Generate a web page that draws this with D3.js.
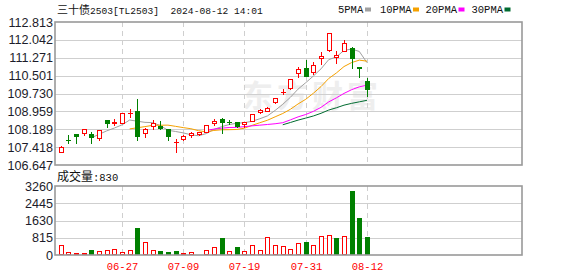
<!DOCTYPE html>
<html>
<head>
<meta charset="utf-8">
<script src="https://cdn.jsdelivr.net/npm/d3@7"></script>
<style>
  html, body { margin: 0; padding: 0; background: #fff; }
  svg { display: block; }
</style>
</head>
<body>
<svg id="chart" width="578" height="276"></svg>
<script>
// daily K-line data, 三十债2503
const dates = ['06-17','06-18','06-19','06-20','06-21','06-24','06-25','06-26','06-27','06-28',
  '07-01','07-02','07-03','07-04','07-05','07-08','07-09','07-10','07-11','07-12',
  '07-15','07-16','07-17','07-18','07-19','07-22','07-23','07-24','07-25','07-26',
  '07-29','07-30','07-31','08-01','08-02','08-05','08-06','08-07','08-08','08-09','08-12'];
const opens = [107.21, 107.73, 107.98, 108.01, 107.97, 107.82, 108.59, 108.45, 108.45, 108.88,
  108.98, 108.04, 108.33, 108.34, 108.19, 107.62, 107.77, 107.95, 107.97, 108.08,
  108.45, 108.63, 108.51, 108.49, 108.40, 108.56, 108.92, 108.98, 109.38, 109.80,
  109.95, 110.61, 110.84, 110.67, 111.27, 111.61, 111.30, 111.56, 111.71, 110.86, 110.27];
const highs = [107.47, 107.94, 107.98, 108.22, 108.06, 108.17, 108.60, 108.63, 108.91, 109.06,
  109.49, 108.26, 108.59, 108.54, 108.20, 107.77, 107.92, 108.06, 108.06, 108.38,
  108.62, 108.69, 108.59, 108.50, 108.50, 108.86, 109.06, 109.13, 109.53, 109.92,
  110.37, 110.89, 111.17, 111.08, 111.53, 112.34, 111.58, 112.04, 111.75, 110.86, 110.39];
const lows = [107.21, 107.61, 107.60, 107.94, 107.61, 107.73, 108.30, 108.39, 108.44, 108.70,
  107.73, 107.87, 108.20, 108.20, 107.73, 107.22, 107.73, 107.84, 107.96, 108.07,
  108.37, 108.01, 108.40, 108.27, 108.28, 108.55, 108.91, 108.97, 109.33, 109.70,
  109.94, 110.45, 110.49, 110.56, 111.00, 111.56, 111.05, 111.55, 110.82, 110.45, 109.62];
const closes = [107.42, 107.71, 107.90, 108.21, 107.87, 108.16, 108.45, 108.51, 108.90, 108.91,
  107.91, 108.20, 108.45, 108.26, 107.91, 107.64, 107.90, 108.04, 108.05, 108.37,
  108.54, 108.49, 108.50, 108.34, 108.49, 108.85, 109.02, 109.12, 109.52, 109.81,
  110.36, 110.79, 110.50, 110.96, 111.36, 112.33, 111.39, 111.90, 111.25, 110.84, 109.92];
const volumes = [455, 125, 80, 80, 235, 175, 235, 265, 140, 220,
  1270, 610, 235, 190, 140, 190, 95, 125, 45, 235,
  370, 805, 180, 385, 180, 465, 235, 840, 465, 415,
  270, 580, 611, 470, 893, 940, 800, 893, 3024, 1740, 830];

const priceTicks = [112.813, 112.042, 111.271, 110.501, 109.730, 108.959, 108.189, 107.418, 106.647];
const volumeTicks = [0, 815, 1630, 2445, 3260];
const dateTicks = ['06-27', '07-09', '07-19', '07-31', '08-12'];

const maPeriods = [5, 10, 20, 30];
const maColors = ['#a0a0a0', '#f5a100', '#ff00ff', '#006b30'];

const RED = '#ff0000';
const GREEN = '#008000';
const MONO = "'Liberation Mono', monospace";
const CJK = "'Noto Sans CJK SC', sans-serif";
const NUM = "'Liberation Sans', Arial, sans-serif";

const plotLeft = 55, plotRight = 522;
const priceTop = 22, priceBottom = 165;
const volTop = 186, volBottom = 255;

const svg = d3.select('#chart');

const x = d3.scaleLinear().domain([-0.75, 60.25]).range([plotLeft, plotRight]);
const y = d3.scaleLinear().domain([priceTicks[priceTicks.length - 1], priceTicks[0]]).range([priceBottom, priceTop]);
const yv = d3.scaleLinear().domain([0, volumeTicks[volumeTicks.length - 1]]).range([volBottom, volTop]);

const px = i => Math.round(x(i));

// title + legend
const title = svg.append('text').attr('x', 57).attr('y', 14).attr('fill', '#111');
title.append('tspan').attr('font-family', CJK).attr('font-size', 11).text('三十债');
title.append('tspan').attr('font-family', MONO).attr('font-size', 9.6).text('2503[TL2503]\u00a0 2024-08-12 14:01');

const legendX = [338, 380, 425.5, 471.5];
maPeriods.forEach((p, k) => {
  svg.append('text').attr('x', legendX[k]).attr('y', 13)
    .attr('font-family', MONO).attr('font-size', 10.5).attr('fill', '#111')
    .text(p + 'PMA');
  svg.append('rect').attr('x', legendX[k] + (p < 10 ? 27 : 33)).attr('y', 7.5)
    .attr('width', 6).attr('height', 4).attr('fill', maColors[k]);
});

// watermark
svg.append('text').attr('x', 242).attr('y', 107)
  .attr('font-family', CJK).attr('font-weight', 'bold').attr('font-size', 31)
  .attr('fill', '#eeeeee').attr('textLength', 136).text('东方财富');

// grid for both panels
const grid = svg.append('g').attr('shape-rendering', 'crispEdges');
priceTicks.slice(1, -1).forEach(t => {
  grid.append('line').attr('x1', plotLeft).attr('x2', plotRight)
    .attr('y1', Math.round(y(t)) + 0.5).attr('y2', Math.round(y(t)) + 0.5)
    .attr('stroke', '#cfcfcf');
});
volumeTicks.slice(1, -1).forEach(t => {
  grid.append('line').attr('x1', plotLeft).attr('x2', plotRight)
    .attr('y1', Math.round(yv(t)) + 0.5).attr('y2', Math.round(yv(t)) + 0.5)
    .attr('stroke', '#cfcfcf');
});
dateTicks.forEach(d => {
  const xi = px(dates.indexOf(d)) + 0.5;
  [[priceTop, priceBottom], [volTop, volBottom]].forEach(([a, b]) => {
    grid.append('line').attr('x1', xi).attr('x2', xi).attr('y1', a).attr('y2', b)
      .attr('stroke', '#cfcfcf').attr('stroke-dasharray', '5,4');
  });
});

// axis labels
priceTicks.forEach(t => {
  svg.append('text').attr('x', 53).attr('y', y(t)).attr('dy', '0.36em')
    .attr('text-anchor', 'end').attr('font-family', NUM).attr('font-size', 12.6)
    .attr('fill', '#1c1c2a').text(t.toFixed(3));
});
volumeTicks.forEach(t => {
  svg.append('text').attr('x', 53).attr('y', yv(t)).attr('dy', '0.36em')
    .attr('text-anchor', 'end').attr('font-family', NUM).attr('font-size', 12.6)
    .attr('fill', '#1c1c2a').text(t);
});
dateTicks.forEach(d => {
  svg.append('text').attr('x', px(dates.indexOf(d)) + 0.5).attr('y', 270)
    .attr('text-anchor', 'middle').attr('font-family', MONO).attr('font-size', 10.5)
    .attr('fill', RED).text(d);
});

const volTitle = svg.append('text').attr('x', 57).attr('y', 181).attr('fill', '#111');
volTitle.append('tspan').attr('font-family', CJK).attr('font-size', 12).text('成交量');
volTitle.append('tspan').attr('font-family', MONO).attr('font-size', 10.5).text(':' + volumes[volumes.length - 1]);

// moving averages of the close
maPeriods.forEach((p, k) => {
  const pts = [];
  closes.forEach((c, i) => {
    if (i >= p - 1) pts.push([i, d3.mean(closes.slice(i - p + 1, i + 1))]);
  });
  svg.append('path').datum(pts)
    .attr('d', d3.line().x(d => x(d[0])).y(d => y(d[1])))
    .attr('fill', 'none').attr('stroke', maColors[k]).attr('stroke-width', 1);
});

// candles
const candles = svg.append('g').attr('shape-rendering', 'crispEdges');
dates.forEach((d, i) => {
  const cx = px(i);
  const up = closes[i] >= opens[i];
  const col = up ? RED : GREEN;
  const top = Math.round(y(Math.max(opens[i], closes[i])));
  const bot = Math.round(y(Math.min(opens[i], closes[i])));
  const hi = Math.round(y(highs[i]));
  const lo = Math.round(y(lows[i]));
  const g = candles.append('g');
  if (bot - top < 2) {
    g.append('line').attr('x1', cx + 0.5).attr('x2', cx + 0.5).attr('y1', hi).attr('y2', lo + 1).attr('stroke', col);
    g.append('rect').attr('x', cx - 2).attr('y', top).attr('width', 5).attr('height', Math.max(bot - top, 1) + (bot - top > 0 ? 1 : 0)).attr('fill', col);
  } else if (up) {
    g.append('line').attr('x1', cx + 0.5).attr('x2', cx + 0.5).attr('y1', hi).attr('y2', top).attr('stroke', col);
    g.append('line').attr('x1', cx + 0.5).attr('x2', cx + 0.5).attr('y1', bot + 1).attr('y2', lo + 1).attr('stroke', col);
    g.append('rect').attr('x', cx - 1.5).attr('y', top + 0.5).attr('width', 4).attr('height', bot - top)
      .attr('fill', '#fff').attr('stroke', col);
  } else {
    g.append('line').attr('x1', cx + 0.5).attr('x2', cx + 0.5).attr('y1', hi).attr('y2', lo + 1).attr('stroke', col);
    g.append('rect').attr('x', cx - 2).attr('y', top).attr('width', 5).attr('height', bot - top + 1).attr('fill', col);
  }
});

// volume bars, coloured by close against previous close
const bars = svg.append('g').attr('shape-rendering', 'crispEdges');
volumes.forEach((v, i) => {
  const cx = px(i);
  const rise = i === 0 ? closes[i] >= opens[i] : closes[i] >= closes[i - 1];
  const top = Math.round(yv(v));
  if (rise) {
    bars.append('rect').attr('x', cx - 1.5).attr('y', top + 0.5).attr('width', 4).attr('height', Math.max(volBottom - top - 1, 0))
      .attr('fill', '#fff').attr('stroke', RED);
  } else {
    bars.append('rect').attr('x', cx - 2).attr('y', top).attr('width', 5).attr('height', volBottom - top).attr('fill', GREEN);
  }
});

// panel frames
[[priceTop, priceBottom], [volTop, volBottom]].forEach(([a, b]) => {
  svg.append('rect').attr('x', plotLeft).attr('y', a).attr('width', plotRight - plotLeft).attr('height', b - a)
    .attr('fill', 'none').attr('stroke', '#999').attr('stroke-width', 1.6);
});
</script>
</body>
</html>
